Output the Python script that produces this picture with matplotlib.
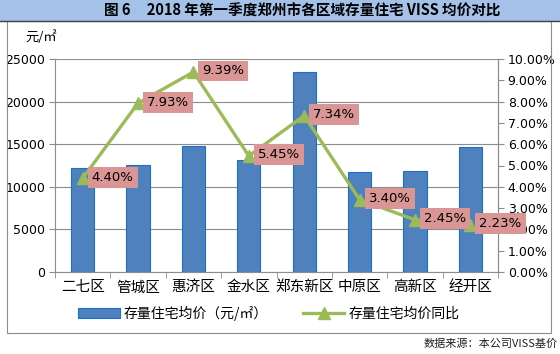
import matplotlib
matplotlib.use('Agg')
import matplotlib.pyplot as plt
from matplotlib.patches import Rectangle
import numpy as np

plt.rcParams['font.family'] = ['Noto Sans CJK SC', 'DejaVu Sans']

# ─── Data ────────────────────────────────────────────────────
districts = ['二七区', '管城区', '惠济区', '金水区', '郑东新区', '中原区', '高新区', '经开区']
avg_price = [12250, 12560, 14790, 13150, 23480, 11700, 11860, 14640]
yoy_pct = [4.40, 7.93, 9.39, 5.45, 7.34, 3.40, 2.45, 2.23]

bar_label = '存量住宅均价（元/㎡）'
line_label = '存量住宅均价同比'
title = '图 6     2018 年第一季度郑州市各区域存量住宅 VISS 均价对比'
source = '数据来源：本公司VISS基价'

W, H = 560, 354
fig = plt.figure(figsize=(W / 100, H / 100), dpi=100)

# title bar
fig.patches.append(Rectangle((0, 1 - 21 / H), 1, 21 / H, transform=fig.transFigure,
                             facecolor='#A4C2E8', edgecolor='none', zorder=0))
fig.lines.append(plt.Line2D([0, 1], [1 - 21 / H, 1 - 21 / H], transform=fig.transFigure,
                            color='#404040', lw=1))
fig.text(0.54, 1 - 10.5 / H, title, ha='center', va='center', fontsize=10.5,
         fontweight='bold', color='black')

# chart frame
fig.patches.append(Rectangle((7 / W, 1 - 333 / H), (551 - 7) / W, (333 - 21) / H,
                             transform=fig.transFigure, facecolor='none',
                             edgecolor='#8C8C8C', lw=0.8))

ax = fig.add_axes([55 / W, 1 - 272 / H, (498 - 55) / W, (272 - 59) / H])
x = np.arange(len(districts))
bars = ax.bar(x, avg_price, width=0.42, color='#4F81BD', edgecolor='#1C6ECF',
              lw=0.8, label=bar_label, zorder=2)
ax.set_xlim(-0.5, len(districts) - 0.5)
ax.set_ylim(0, 25000)
ax.set_yticks(np.arange(0, 25001, 5000))
ax.yaxis.grid(True, color='#8C8C8C', lw=0.8)
ax.set_axisbelow(True)
ax.set_xticks(x)
ax.set_xticklabels(districts, fontsize=10.5)
ax.set_xticks(np.arange(-0.5, len(districts), 1), minor=True)
ax.tick_params(axis='x', which='major', length=0, pad=6)
ax.tick_params(axis='x', which='minor', length=4, color='#8C8C8C', direction='out')
ax.tick_params(axis='y', length=4, color='#8C8C8C', labelsize=9, pad=3)
for lab in ax.get_yticklabels():
    lab.set_family('DejaVu Sans')
ax.spines['top'].set_visible(False)
for s in ['left', 'right', 'bottom']:
    ax.spines[s].set_color('#8C8C8C')

ax2 = ax.twinx()
line, = ax2.plot(x, yoy_pct, color='#9BBB59', lw=2.4, marker='^', ms=8,
                 label=line_label, zorder=3)
ax2.set_ylim(0, 10)
ax2.set_yticks(np.arange(0, 10.01, 1))
ax2.set_yticklabels([f'{v:.2f}%' for v in np.arange(0, 10.01, 1)], fontsize=9,
                    family='DejaVu Sans')
ax2.tick_params(axis='y', length=4, color='#8C8C8C', pad=3)
for s in ['top', 'left', 'bottom']:
    ax2.spines[s].set_visible(False)
ax2.spines['right'].set_color('#8C8C8C')

# data labels to the right of each point
for i, v in enumerate(yoy_pct):
    ax2.annotate(f'{v:.2f}%', (x[i], v), xytext=(9, 1),
                 textcoords='offset pixels', ha='left', va='center', fontsize=9.5,
                 family='DejaVu Sans',
                 bbox=dict(boxstyle='square,pad=0.3', facecolor='#DA9694',
                           edgecolor='none'), zorder=5)

fig.text(25 / W, 1 - 37 / H, '元/㎡', ha='left', va='center', fontsize=9.5)

fig.legend([bars, line], [bar_label, line_label], loc='center',
           bbox_to_anchor=(0.48, 1 - 313 / H), ncol=2, frameon=False,
           fontsize=10, handlelength=3, columnspacing=2.5, handletextpad=0.3)

fig.text(558 / W, 1 - 344 / H, source, ha='right', va='center', fontsize=8,
         color='#202020')

plt.savefig('out.png', dpi=100)
